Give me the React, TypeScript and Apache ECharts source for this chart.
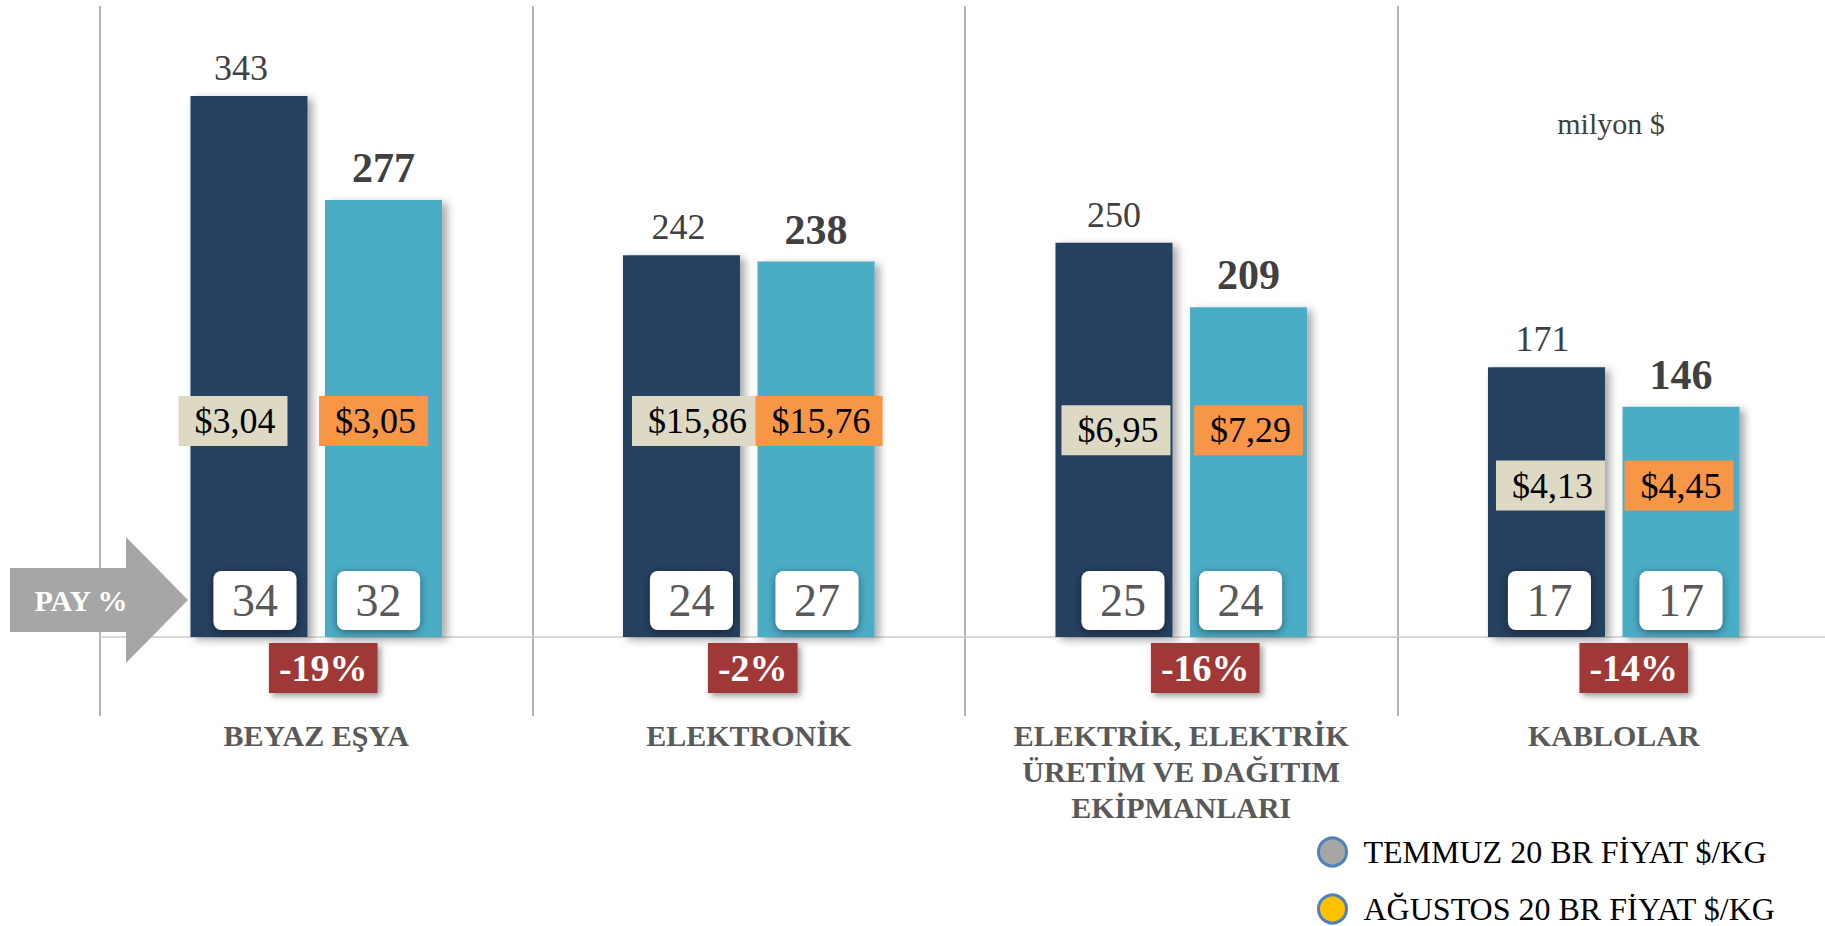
import React, { useEffect, useRef } from "react";
import * as echarts from "echarts";

// ---- data ----
const categories = [
  "BEYAZ EŞYA",
  "ELEKTRONİK",
  "ELEKTRİK, ELEKTRİK\nÜRETİM VE DAĞITIM\nEKİPMANLARI",
  "KABLOLAR",
];
const julyExports = [343, 242, 250, 171];
const augustExports = [277, 238, 209, 146];
const julyShare = [34, 24, 25, 17];
const augustShare = [32, 27, 24, 17];
const julyPrice = [3.04, 15.86, 6.95, 4.13];
const augustPrice = [3.05, 15.76, 7.29, 4.45];
const changeLabels = ["-19%", "-2%", "-16%", "-14%"];
const legendNames = ["TEMMUZ 20 BR FİYAT $/KG", "AĞUSTOS 20 BR FİYAT $/KG"];
const legendColors = ["#A6A6A6", "#FFC000"];
const unitLabel = "milyon $";
const payLabel = "PAY %";

// ---- label layout (anchor heights in axis units, pixel nudges) ----
const priceLevel = [137, 137, 131, 96];
const julyPriceDx = [-16, 14, 2, 4];
const augustPriceDx = [-10, 3, 0, -2];
const julyShareDx = [6, 10, 9, 3];
const augustShareDx = [-5, 1, -8, 0];
const julyValueDx = [-8, -3, 0, -4];
const changeDx = [7, 4, 24, 20];
const legendTops = [836, 893];

const SERIF = "'Liberation Serif', 'Times New Roman', serif";
const DARK = "#264061";
const LIGHT = "#4BACC6";
const BAR_W = 117;
const BAR_GAP = "15%";

const fmtPrice = (v: number) => "$" + v.toFixed(2).replace(".", ",");

export default function App() {
  const ref = useRef<HTMLDivElement>(null);
  useEffect(() => {
    if (!ref.current) return;
    const chart = echarts.init(ref.current, null, { renderer: "svg" });

    const hiddenX = {
      type: "category",
      data: categories,
      show: false,
      gridIndex: 0,
    };

    const priceLabel = (bg: string) => ({
      show: true,
      position: "top",
      distance: 0,
      fontFamily: SERIF,
      fontSize: 36,
      lineHeight: 36,
      color: "#000",
      backgroundColor: bg,
      padding: [7, 12, 7, 16],
    });

    const shareLabel = {
      show: true,
      position: "insideBottom",
      distance: 7,
      fontFamily: SERIF,
      fontSize: 46,
      lineHeight: 47,
      color: "#595959",
      backgroundColor: "#ffffff",
      borderRadius: 8,
      padding: [6, 10],
      width: 63,
      align: "center",
      shadowBlur: 8,
      shadowColor: "rgba(0,0,0,0.45)",
      shadowOffsetY: 2,
    };

    const legends = legendNames.map((name, i) => ({
      orient: "horizontal",
      left: 1317,
      top: legendTops[i],
      padding: 0,
      itemWidth: 28,
      itemHeight: 28,
      selectedMode: false,
      textStyle: {
        fontFamily: SERIF,
        fontSize: 32,
        color: "#000",
        padding: [0, 0, 0, 12],
      },
      data: [
        {
          name,
          icon: "circle",
          itemStyle: { color: legendColors[i], borderColor: "#4F81BD", borderWidth: 3 },
        },
      ],
    }));

    const option = {
      animation: false,
      backgroundColor: "#ffffff",
      grid: {
        left: 100,
        width: 1730,
        top: 6,
        bottom: 289,
        containLabel: false,
        outerBoundsMode: "none",
      },
      xAxis: [
        {
          type: "category",
          data: categories,
          axisLine: { show: true, lineStyle: { color: "#D9D9D9", width: 2 } },
          axisTick: { show: true, length: 79, lineStyle: { color: "#B4B4B4", width: 2 } },
          splitLine: { show: true, lineStyle: { color: "#B4B4B4", width: 2 } },
          axisLabel: {
            interval: 0,
            margin: 80,
            fontFamily: SERIF,
            fontWeight: "bold",
            fontSize: 30,
            lineHeight: 36,
            color: "#595959",
          },
        },
        hiddenX,
        hiddenX,
      ],
      yAxis: {
        type: "value",
        min: 0,
        max: 400,
        show: false,
        splitLine: { show: false },
      },
      legend: legends,
      graphic: [
        {
          type: "polygon",
          z: 100,
          shape: {
            points: [
              [10, 568],
              [126, 568],
              [126, 537],
              [188, 600],
              [126, 663],
              [126, 632],
              [10, 632],
            ],
          },
          style: { fill: "#A6A6A6" },
        },
        {
          type: "text",
          z: 101,
          x: 81,
          y: 600,
          style: {
            text: payLabel,
            fill: "#ffffff",
            font: `bold 30px ${SERIF}`,
            textAlign: "center",
            textVerticalAlign: "middle",
          },
        },
        {
          type: "text",
          z: 101,
          x: 1611,
          y: 123,
          style: {
            text: unitLabel,
            fill: "#404040",
            font: `30px ${SERIF}`,
            textAlign: "center",
            textVerticalAlign: "middle",
          },
        },
      ],
      series: [
        {
          name: "Temmuz",
          type: "bar",
          xAxisIndex: 0,
          barWidth: BAR_W,
          barGap: BAR_GAP,
          data: julyExports.map((v, i) => ({ value: v, label: { offset: [julyValueDx[i], 0] } })),
          itemStyle: {
            color: DARK,
            shadowBlur: 8,
            shadowOffsetX: 5,
            shadowOffsetY: 3,
            shadowColor: "rgba(0,0,0,0.35)",
          },
          label: {
            show: true,
            position: "top",
            distance: 10,
            fontFamily: SERIF,
            fontSize: 36,
            color: "#404040",
          },
        },
        {
          name: "Ağustos",
          type: "bar",
          xAxisIndex: 0,
          barWidth: BAR_W,
          barGap: BAR_GAP,
          data: augustExports,
          itemStyle: {
            color: LIGHT,
            shadowBlur: 8,
            shadowOffsetX: 5,
            shadowOffsetY: 3,
            shadowColor: "rgba(0,0,0,0.35)",
          },
          label: {
            show: true,
            position: "top",
            distance: 11,
            fontFamily: SERIF,
            fontWeight: "bold",
            fontSize: 42,
            color: "#404040",
          },
        },
        {
          name: "Temmuz pay",
          type: "bar",
          xAxisIndex: 1,
          barWidth: BAR_W,
          barGap: BAR_GAP,
          data: julyExports.map((v, i) => ({ value: v, label: { offset: [julyShareDx[i], 0] } })),
          itemStyle: { color: "rgba(0,0,0,0)" },
          label: { ...shareLabel, formatter: (p: any) => String(julyShare[p.dataIndex]) },
        },
        {
          name: "Ağustos pay",
          type: "bar",
          xAxisIndex: 1,
          barWidth: BAR_W,
          barGap: BAR_GAP,
          data: augustExports.map((v, i) => ({ value: v, label: { offset: [augustShareDx[i], 0] } })),
          itemStyle: { color: "rgba(0,0,0,0)" },
          label: { ...shareLabel, formatter: (p: any) => String(augustShare[p.dataIndex]) },
        },
        {
          name: legendNames[0],
          type: "bar",
          xAxisIndex: 2,
          barWidth: BAR_W,
          barGap: BAR_GAP,
          data: priceLevel.map((v, i) => ({ value: v, label: { offset: [julyPriceDx[i], 25] } })),
          itemStyle: { color: "rgba(0,0,0,0)" },
          label: { ...priceLabel("#DDD9C4"), formatter: (p: any) => fmtPrice(julyPrice[p.dataIndex]) },
        },
        {
          name: legendNames[1],
          type: "bar",
          xAxisIndex: 2,
          barWidth: BAR_W,
          barGap: BAR_GAP,
          data: priceLevel.map((v, i) => ({ value: v, label: { offset: [augustPriceDx[i], 25] } })),
          itemStyle: { color: "rgba(0,0,0,0)" },
          label: { ...priceLabel("#F79646"), formatter: (p: any) => fmtPrice(augustPrice[p.dataIndex]) },
        },
        {
          name: "Değişim",
          type: "scatter",
          xAxisIndex: 0,
          symbolSize: 0,
          itemStyle: { opacity: 1 },
          data: changeLabels.map((_, i) => ({ value: 0, label: { offset: [changeDx[i], 0] } })),
          label: {
            show: true,
            position: "bottom",
            distance: 6,
            formatter: (p: any) => changeLabels[p.dataIndex],
            fontFamily: SERIF,
            fontWeight: "bold",
            fontSize: 38,
            lineHeight: 40,
            color: "#ffffff",
            backgroundColor: "#A03937",
            padding: [5, 10],
            shadowBlur: 6,
            shadowOffsetX: 3,
            shadowOffsetY: 3,
            shadowColor: "rgba(0,0,0,0.4)",
          },
        },
      ],
    };

    chart.setOption(option as any);
    return () => chart.dispose();
  }, []);

  return (
    <div
      ref={ref}
      style={{ position: "absolute", left: 0, top: 0, width: 1825, height: 926 }}
    />
  );
}
